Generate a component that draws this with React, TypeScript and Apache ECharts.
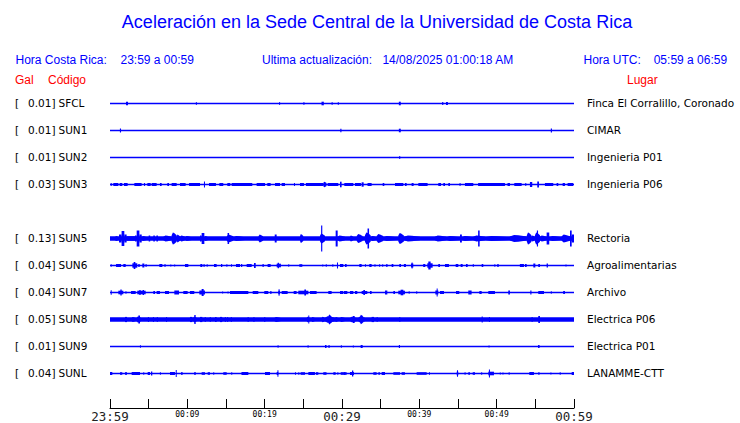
import React, { useEffect, useRef } from "react";
import * as echarts from "echarts";

// ---------- DATA ----------
const TITLE = "Aceleración en la Sede Central de la Universidad de Costa Rica";
const rowCodes = ["SFCL", "SUN1", "SUN2", "SUN3", "", "SUN5", "SUN6", "SUN7", "SUN8", "SUN9", "SUNL"];
const galValues = ["0.01", "0.01", "0.01", "0.03", "", "0.13", "0.04", "0.04", "0.05", "0.01", "0.04"];
const places = [
  "Finca El Corralillo, Coronado", "CIMAR", "Ingenieria P01", "Ingenieria P06", "",
  "Rectoria", "Agroalimentarias", "Archivo", "Electrica P06", "Electrica P01", "LANAMME-CTT",
];
// background noise half-amplitude per row
const noiseFloor = [0.7, 0.7, 0.7, 0.7, 0, 2.2, 0.7, 0.7, 2.2, 0.7, 0.7];
const timeLabels = ["23:59", "00:09", "00:19", "00:29", "00:39", "00:49", "00:59"];

// events: [startMinute, endMinute, halfAmplitude]
type Ev = [number, number, number];
const sfclEvents: Ev[] = [
  [2.07, 2.33, 1.8], [11.1, 11.25, 1.2], [21.85, 22.0, 1.3], [25.0, 25.15, 1.2], [27.35, 27.65, 1.8],
  [28.65, 28.8, 1.3], [29.45, 29.6, 1.3], [37.35, 37.6, 1.8], [42.95, 43.1, 1.4], [43.45, 43.7, 1.6],
];
const sun1Events: Ev[] = [[1.28, 1.43, 2.0], [29.78, 29.93, 1.8], [37.35, 37.6, 1.8], [57.0, 57.15, 2.0]];
const sun2Events: Ev[] = [[37.4, 37.52, 1.6]];
const sun3Events: Ev[] = [
  [0.09, 0.22, 1.5], [0.43, 1.08, 1.5], [1.25, 1.59, 1.5], [1.81, 2.28, 1.5], [3.15, 4.09, 1.5],
  [4.4, 4.5, 1.5], [4.83, 5.26, 1.5], [5.39, 6.03, 1.5], [6.46, 6.68, 1.5], [7.41, 7.63, 1.5],
  [7.97, 8.62, 1.5], [9.05, 9.78, 1.5], [10.22, 11.64, 1.5], [12.15, 12.28, 3], [12.8, 13.7, 1.5],
  [14.14, 14.65, 1.5], [15.17, 15.56, 1.5], [15.73, 18.4, 1.5], [18.96, 20.04, 1.5], [20.34, 20.77, 1.5],
  [21.34, 21.98, 1.5], [22.2, 22.63, 1.5], [23.79, 23.9, 1.5], [24.57, 25.08, 1.5], [25.34, 27.58, 1.5],
  [27.58, 28.0, 2.8], [28.14, 29.52, 1.5], [29.74, 29.95, 2.8], [30.3, 31.46, 1.5], [31.68, 32.45, 1.5],
  [32.54, 32.8, 2.2], [33.3, 33.83, 1.5], [35.26, 35.47, 1.5], [36.85, 37.93, 1.5], [38.14, 38.36, 1.5],
  [39.0, 39.26, 1.5], [39.87, 41.07, 1.5], [42.45, 42.8, 1.5], [43.1, 43.32, 1.5], [43.75, 43.96, 1.5],
  [45.2, 45.3, 1.5], [45.9, 46.98, 1.5], [47.6, 51.07, 1.5], [51.4, 51.72, 1.5], [52.28, 53.23, 1.5],
  [53.7, 53.8, 1.5], [54.3, 54.6, 2.5], [55.25, 55.47, 3], [56.24, 57.32, 1.5], [57.75, 57.97, 1.5],
  [58.53, 58.83, 1.5], [59.17, 59.9, 1.5],
];
const sun5Events: Ev[] = [
  [0.65, 1.16, 2.5], [1.16, 1.5, 4], [1.5, 1.85, 7.5], [1.85, 2.15, 4], [2.15, 3.23, 2.3],
  [3.23, 3.45, 3], [3.45, 3.8, 8], [3.8, 4.1, 4], [4.1, 4.74, 2.5], [5.0, 5.2, 3], [5.6, 5.8, 3],
  [6.0, 6.2, 3], [6.9, 7.97, 3], [7.97, 8.62, 6], [8.62, 9.05, 4], [9.05, 9.7, 3], [9.7, 10.56, 2.5],
  [11.64, 11.85, 3], [11.85, 12.2, 5.5], [12.2, 12.7, 2.5], [15.1, 15.95, 4], [15.2, 15.4, 5.5],
  [15.95, 17.46, 2.5], [19.2, 19.8, 4], [21.3, 21.55, 4], [24.57, 25.0, 4.5], [27.15, 27.8, 5],
  [27.3, 27.45, 13], [29.18, 29.44, 8], [29.44, 30.39, 3], [31.03, 31.46, 3], [31.9, 32.67, 4.5],
  [32.97, 33.7, 6], [33.3, 33.5, 10], [33.7, 34.48, 2.5], [34.48, 35.34, 4.5], [35.34, 37.07, 2.5],
  [37.28, 38.0, 5.5], [38.0, 40.08, 3], [42.0, 43.5, 3], [43.5, 45.26, 2.5], [45.26, 45.5, 4],
  [45.5, 46.98, 2.5], [46.98, 48.5, 3], [47.6, 47.8, 8], [48.5, 51.7, 2.5], [51.7, 53.9, 3.5],
  [53.9, 54.5, 6], [54.5, 54.95, 3], [54.95, 55.6, 6], [55.2, 55.35, 8], [55.6, 56.46, 3],
  [56.46, 56.8, 6], [56.8, 58.4, 2.5], [58.4, 59.48, 4], [59.48, 59.7, 8], [59.7, 60, 4],
];
const sun6Events: Ev[] = [
  [0.09, 0.22, 1.2], [0.78, 1.42, 1.5], [1.72, 2.03, 1.5], [2.89, 3.53, 2.2], [3.06, 3.28, 3.5],
  [3.66, 3.84, 1.5], [4.18, 4.44, 2], [4.6, 4.7, 1.5], [6.38, 6.77, 1.5], [7.03, 7.2, 1.3],
  [7.8, 7.9, 1], [8.3, 8.4, 1], [9.7, 10.13, 1.5], [11.68, 11.94, 1.5], [12.1, 12.2, 1.5],
  [12.5, 12.6, 1.2], [13.45, 13.79, 1.5], [14.35, 14.52, 1.5], [15.05, 15.15, 1.2], [15.65, 15.75, 1.2],
  [16.29, 16.81, 1.5], [16.95, 17.1, 1.5], [17.67, 18.32, 1.5], [18.62, 18.84, 2.5], [19.7, 19.91, 1.3],
  [20.38, 20.77, 1.5], [21.55, 22.1, 1.8], [21.68, 21.85, 2.8], [23.05, 23.15, 1.2], [24.48, 24.87, 1.3],
  [27.45, 27.55, 1], [27.9, 28.0, 1.2], [28.75, 28.85, 1.3], [29.35, 29.45, 3], [29.74, 30.17, 1.5],
  [30.39, 30.6, 1.5], [32.24, 32.54, 1.5], [32.97, 33.07, 1.2], [33.53, 33.83, 1.5], [34.2, 34.3, 1.2],
  [34.8, 34.9, 1.2], [35.2, 35.3, 1.2], [35.69, 35.9, 1.3], [36.42, 36.64, 1.5], [37.41, 37.63, 1.5],
  [38.0, 38.27, 1.5], [38.92, 39.22, 2], [39.0, 39.1, 3], [40.5, 40.77, 1.5], [41.03, 41.72, 2.2],
  [41.16, 41.46, 4], [42.45, 42.67, 1.5], [43.32, 43.83, 1.5], [44.7, 45.04, 1.5], [45.34, 45.6, 1.5],
  [46.03, 46.25, 1.5], [46.9, 47.07, 1.2], [48.06, 48.27, 1.5], [49.7, 49.8, 1.2], [50.08, 50.26, 1.5],
  [53.0, 53.53, 1.5], [53.66, 53.88, 1.5], [54.74, 55.0, 2], [55.38, 55.6, 1.5], [56.46, 56.63, 2],
  [58.9, 59.0, 1],
];
const sun7Events: Ev[] = [
  [0.09, 0.22, 2.2], [1.08, 1.72, 1.8], [1.34, 1.51, 3], [2.0, 2.1, 1.2], [2.72, 3.32, 1.5],
  [3.53, 4.61, 1.8], [3.79, 3.96, 2.5], [4.22, 4.4, 2.5], [5.6, 5.82, 1.5], [6.03, 6.46, 1.5],
  [7.11, 7.63, 1.5], [8.32, 8.92, 2], [9.48, 10.04, 1.5], [10.34, 10.9, 1.5], [11.55, 12.28, 2],
  [11.85, 12.11, 3.5], [14.5, 14.6, 1], [15.2, 15.3, 1], [15.52, 17.89, 1.5], [18.45, 19.18, 1.5],
  [19.95, 20.47, 1.5], [20.69, 20.9, 1.3], [21.76, 21.98, 1.8], [21.8, 21.9, 3.2], [22.2, 22.97, 1.5],
  [23.75, 24.13, 1.5], [24.35, 25.65, 1.8], [25.13, 25.35, 3], [25.86, 26.72, 1.5], [28.23, 28.66, 1.5],
  [29.74, 30.17, 1.5], [30.26, 30.69, 1.5], [31.03, 31.46, 1.5], [31.68, 31.98, 1.5], [32.54, 33.27, 1.5],
  [32.76, 32.97, 2.5], [33.62, 33.83, 1.5], [35.56, 35.86, 2], [36.64, 36.85, 1.5], [37.28, 38.14, 1.8],
  [37.58, 37.93, 2.8], [38.62, 38.72, 1.2], [39.6, 39.7, 1.2], [42.07, 42.45, 2], [42.24, 42.37, 4],
  [42.67, 43.19, 1.5], [44.74, 45.17, 1.5], [46.33, 46.76, 2], [47.76, 48.06, 1.5], [48.92, 49.78, 1.5],
  [51.5, 51.72, 2], [54.35, 54.5, 2], [55.38, 56.12, 1.5], [57.0, 57.1, 1.2], [58.6, 58.83, 1.5],
];
const sun8Events: Ev[] = [
  [1.94, 2.2, 2.6], [2.8, 3.32, 2.6], [3.45, 4.0, 3], [3.66, 3.88, 4], [4.9, 5.0, 2.6],
  [5.55, 5.65, 2.6], [6.05, 6.15, 2.6], [7.25, 7.35, 2.6], [10.34, 10.65, 2.6], [10.77, 11.2, 3],
  [10.9, 11.08, 4.5], [11.64, 11.94, 2.6], [12.25, 12.35, 2.6], [12.9, 13.0, 2.6], [13.58, 13.79, 2.6],
  [14.22, 14.52, 2.6], [14.85, 14.95, 2.6], [15.15, 15.25, 2.6], [15.62, 15.72, 2.6], [17.8, 17.9, 2.6],
  [18.55, 18.65, 2.6], [19.95, 20.05, 2.6], [21.25, 22.1, 2.6], [25.43, 25.86, 2.8], [25.64, 25.77, 4],
  [26.07, 26.5, 2.6], [27.37, 27.8, 2.8], [27.8, 29.1, 3.2], [28.23, 28.66, 5], [29.1, 29.52, 2.6],
  [29.74, 30.4, 2.6], [31.03, 31.9, 2.8], [31.38, 31.64, 3.5], [32.11, 32.97, 3], [32.33, 32.76, 4.8],
  [33.83, 34.14, 2.6], [34.48, 34.58, 2.6], [37.41, 37.51, 2.6], [48.06, 48.2, 3], [49.0, 49.1, 2.6],
  [54.52, 54.62, 2.6], [55.38, 55.6, 3.5],
];
const sun9Events: Ev[] = [
  [3.87, 3.97, 1.3], [21.67, 21.77, 1.3], [25.55, 25.65, 1.3], [27.8, 28.0, 1.5], [28.25, 28.4, 1.5],
  [29.85, 29.95, 1.2], [31.4, 31.5, 1.0], [32.41, 32.67, 1.5], [37.35, 37.5, 1.5], [48.95, 49.05, 1.0],
  [55.35, 55.55, 1.5],
];
const sunlEvents: Ev[] = [
  [0.0, 0.3, 1.5], [1.29, 1.59, 1.3], [1.94, 2.2, 1.3], [2.8, 3.88, 1.5], [4.3, 4.4, 1.2],
  [4.87, 5.17, 1.5], [5.3, 5.47, 2], [6.45, 6.55, 1.2], [7.76, 8.4, 1.5], [8.5, 8.62, 3.5],
  [9.18, 9.4, 1.3], [10.9, 11.08, 1.5], [11.85, 12.28, 1.3], [12.63, 12.93, 1.3], [13.35, 13.45, 1.2],
  [14.65, 15.09, 1.3], [15.68, 15.78, 1.2], [17.0, 17.89, 1.5], [20.04, 20.69, 1.5], [21.55, 21.76, 1.5],
  [21.65, 21.75, 3.2], [23.92, 24.02, 1.2], [24.35, 24.45, 1.2], [24.65, 25.22, 1.3], [25.65, 26.5, 1.5],
  [26.63, 26.94, 1.3], [27.58, 28.0, 1.3], [28.88, 29.18, 1.3], [29.4, 29.52, 1.2], [29.83, 30.4, 1.3],
  [30.26, 30.6, 1.3], [31.03, 31.55, 1.5], [31.29, 31.46, 3], [34.05, 34.48, 1.3], [34.7, 34.91, 1.3],
  [35.13, 35.56, 1.5], [36.64, 37.5, 1.3], [37.71, 38.14, 1.3], [39.65, 40.95, 1.3], [41.25, 41.35, 1.2],
  [44.83, 45.04, 1.8], [44.87, 44.97, 3.2], [45.85, 45.95, 1.2], [46.33, 46.55, 1.2], [46.9, 47.2, 1.3],
  [48.0, 48.1, 1.2], [48.92, 49.65, 1.8], [49.0, 49.13, 4], [50.4, 50.5, 1], [50.75, 50.85, 1],
  [51.55, 51.65, 1.2], [54.22, 54.82, 1.5], [55.4, 55.5, 1.5], [56.95, 57.05, 1], [58.15, 58.25, 1.2],
  [59.7, 60, 1.5],
];
const rowEvents: Ev[][] = [
  sfclEvents, sun1Events, sun2Events, sun3Events, [], sun5Events,
  sun6Events, sun7Events, sun8Events, sun9Events, sunlEvents,
];

// ---------- STYLE / LAYOUT ----------
const BLUE = "#0000ff";
const SPACING = 27; // y units between rows
const SANS = '"Liberation Sans", Arial, sans-serif';
const DEJAVU = '"DejaVu Sans", sans-serif';
const MONO = '"DejaVu Sans Mono", monospace';

export default function App() {
  const ref = useRef<HTMLDivElement>(null);

  useEffect(() => {
    if (!ref.current) return;
    const chart = echarts.init(ref.current, undefined, { renderer: "svg" });

    const traceData: number[][] = [];
    rowCodes.forEach((code, r) => {
      if (!code) return;
      traceData.push([0, 60, noiseFloor[r], r, 0]);
      rowEvents[r].forEach((ev) => traceData.push([ev[0], ev[1], ev[2], r, 1]));
    });

    const nRows = rowCodes.length;
    chart.setOption({
      animation: false,
      backgroundColor: "#ffffff",
      grid: [
        { left: 110, width: 464, top: 90, height: nRows * SPACING },
        { left: 110, width: 464, top: 400, height: 9 },
      ],
      xAxis: [
        { type: "value", gridIndex: 0, min: 0, max: 60, show: false },
        {
          type: "value", gridIndex: 1, min: 0, max: 60, interval: 5, position: "bottom",
          axisLine: { show: true, lineStyle: { color: "#000", width: 1 } },
          axisTick: { show: true, inside: true, length: 9, lineStyle: { color: "#000", width: 1 } },
          splitLine: { show: false },
          axisLabel: {
            margin: 2,
            verticalAlign: "top",
            formatter: (v: number) => {
              if (v % 10 !== 0) return "";
              const lbl = timeLabels[v / 10];
              return v % 30 === 0 ? `{big|${lbl}}` : `{small|${lbl}}`;
            },
            rich: {
              big: { fontSize: 12.5, fontFamily: MONO, color: "#222" },
              small: { fontSize: 8, fontFamily: MONO, color: "#000" },
            },
          },
        },
      ],
      yAxis: [
        { type: "value", gridIndex: 0, min: -(nRows - 1) * SPACING - SPACING / 2, max: SPACING / 2, show: false },
        { type: "value", gridIndex: 1, min: 0, max: 1, show: false },
      ],
      series: [
        {
          type: "custom",
          xAxisIndex: 0,
          yAxisIndex: 0,
          clip: false,
          encode: { x: [0, 1], y: [2] },
          data: traceData,
          renderItem: (params: any, api: any) => {
            const s = api.value(0), e = api.value(1), a = api.value(2), r = api.value(3), burst = api.value(4);
            const base = -r * SPACING;
            const p0 = api.coord([s, base + a]);
            const p1 = api.coord([e, base - a]);
            const w = Math.max(p1[0] - p0[0], 1);
            const h = Math.max(p1[1] - p0[1], 1);
            if (!burst || w < 3 || a < 2.4) {
              return {
                type: "rect",
                shape: { x: p0[0], y: p0[1], width: w, height: h },
                style: { fill: BLUE },
              };
            }
            // spindle-shaped burst envelope
            const cy = (p0[1] + p1[1]) / 2;
            const hh = h / 2;
            const x0 = p0[0];
            const pts = [
              [x0, cy - hh * 0.55], [x0 + w * 0.25, cy - hh], [x0 + w * 0.5, cy - hh * 0.9],
              [x0 + w, cy - hh * 0.55], [x0 + w, cy + hh * 0.55], [x0 + w * 0.5, cy + hh * 0.9],
              [x0 + w * 0.25, cy + hh], [x0, cy + hh * 0.55],
            ];
            return { type: "polygon", shape: { points: pts }, style: { fill: BLUE } };
          },
        },
      ],
    });

    const g: any[] = [];
    const txt = (text: string, x: number, y: number, font: string, fill: string, align = "left") => ({
      type: "text", x, y,
      style: { text, font, fill, textAlign: align, textVerticalAlign: "middle" },
    });
    g.push(txt(TITLE, 377, 22, `18px ${SANS}`, BLUE, "center"));
    g.push(txt("Hora Costa Rica:", 15.5, 60, `12px ${SANS}`, BLUE));
    g.push(txt("23:59 a 00:59", 120.5, 60, `12px ${SANS}`, BLUE));
    g.push(txt("Ultima actualización:", 262, 60, `12px ${SANS}`, BLUE));
    g.push(txt("14/08/2025 01:00:18 AM", 382.4, 60, `12px ${SANS}`, BLUE));
    g.push(txt("Hora UTC:", 583.5, 60, `12px ${SANS}`, BLUE));
    g.push(txt("05:59 a 06:59", 653.7, 60, `12px ${SANS}`, BLUE));
    g.push(txt("Gal", 15, 80, `12px ${SANS}`, "#ff0000"));
    g.push(txt("Código", 48, 80, `12px ${SANS}`, "#ff0000"));
    g.push(txt("Lugar", 627, 80, `12px ${SANS}`, "#ff0000"));

    rowCodes.forEach((code, r) => {
      if (!code) return;
      const y = (chart.convertToPixel({ xAxisIndex: 0, yAxisIndex: 0 } as any, [0, -r * SPACING]) as number[])[1] - 0.3;
      g.push(txt("[", 15, y, `10.5px ${DEJAVU}`, "#000"));
      g.push(txt(galValues[r] + "]", 55.5, y, `10.5px ${DEJAVU}`, "#000", "right"));
      g.push(txt(code, 58.5, y, `10.5px ${DEJAVU}`, "#000"));
      g.push(txt(places[r], 587, y, `10.5px ${DEJAVU}`, "#000"));
    });
    chart.setOption({ graphic: g });

    return () => chart.dispose();
  }, []);

  return (
    <div
      ref={ref}
      style={{ position: "fixed", left: 0, top: 0, width: 740, height: 423, background: "#fff" }}
    />
  );
}
